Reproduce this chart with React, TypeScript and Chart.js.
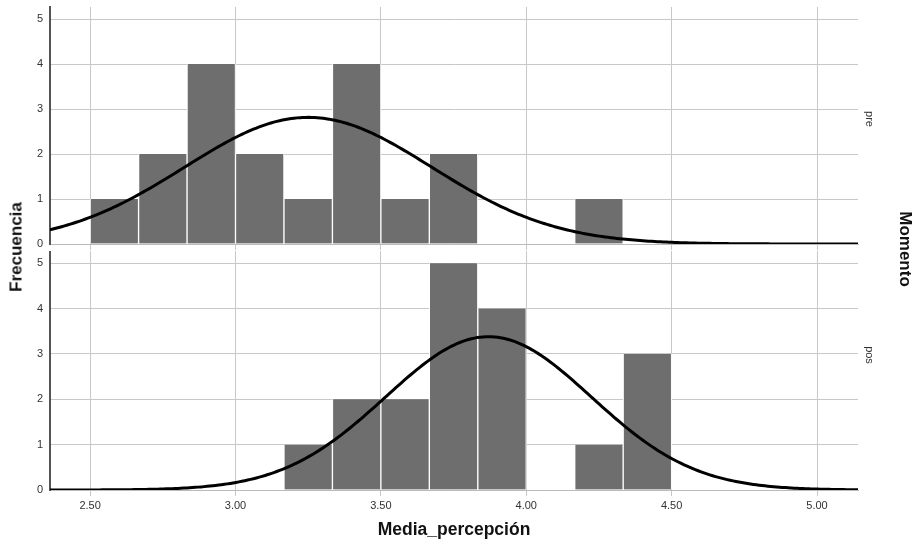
import React, { useEffect, useRef } from "react";
import { Chart, registerables } from "chart.js";

Chart.register(...registerables);

// ---- data ----
const BIN_CENTERS = [2.5833, 2.75, 2.9167, 3.0833, 3.25, 3.4167, 3.5833, 3.75, 3.9167, 4.0833, 4.25, 4.4167];
const BIN_WIDTH = 1 / 6;
const PRE_COUNTS = [1, 2, 4, 2, 1, 4, 1, 2, 0, 0, 1, 0];
const POS_COUNTS = [0, 0, 0, 0, 1, 2, 2, 5, 4, 0, 1, 3];
const PRE_N = 18;
const POS_N = 18;
const PRE_MEAN = 3.25;
const PRE_SD = 0.425;
const POS_MEAN = 3.87;
const POS_SD = 0.354;
const X_TICKS = [2.5, 3.0, 3.5, 4.0, 4.5, 5.0];
const Y_TICKS = [0, 1, 2, 3, 4, 5];
const X_MIN = 2.362;
const X_MAX = 5.141;
const Y_MAX = 5.27;
const CURVE_STEP = 0.01;

const FONT = '"Liberation Sans", Arial, Helvetica, sans-serif';

// fitted normal curve (frequency scale) from mean / sd / n
function normalCurve(mean: number, sd: number, n: number) {
  const pts: { x: number; y: number }[] = [];
  const k = (n * BIN_WIDTH) / (sd * Math.sqrt(2 * Math.PI));
  const steps = Math.round((X_MAX - X_MIN) / CURVE_STEP);
  for (let i = 0; i <= steps; i++) {
    const x = X_MIN + (i * (X_MAX - X_MIN)) / steps;
    const z = (x - mean) / sd;
    pts.push({ x, y: k * Math.exp(-0.5 * z * z) });
  }
  return pts;
}

function makeConfig(counts: number[], mean: number, sd: number, n: number, isBottom: boolean): any {
  return {
    type: "bar",
    data: {
      datasets: [
        {
          type: "line",
          data: normalCurve(mean, sd, n),
          borderColor: "#000000",
          borderWidth: 3,
          pointRadius: 0,
          fill: false,
          tension: 0,
          order: 0,
        },
        {
          type: "bar",
          data: BIN_CENTERS.map((x, i) => ({ x, y: counts[i] })),
          backgroundColor: "#6e6e6e",
          borderColor: "#ffffff",
          borderWidth: { left: 1, right: 1, top: 0, bottom: 0 },
          categoryPercentage: 1,
          barPercentage: 1,
          order: 1,
        },
      ],
    },
    options: {
      animation: false,
      responsive: false,
      maintainAspectRatio: false,
      layout: { padding: { top: isBottom ? 0 : 7, right: 58, left: 0, bottom: 0 } },
      plugins: { legend: { display: false }, tooltip: { enabled: false } },
      scales: {
        x: {
          type: "linear",
          min: X_MIN,
          max: X_MAX,
          offset: false,
          afterBuildTicks: (s: any) => {
            s.ticks = X_TICKS.map((v) => ({ value: v }));
          },
          afterFit: (s: any) => {
            s.height = isBottom ? 57 : 7;
            s.paddingLeft = 0;
            s.paddingRight = 0;
            s.paddingTop = 0;
            s.paddingBottom = 0;
          },
          ticks: {
            display: isBottom,
            font: { family: FONT, size: 11 },
            color: "#333333",
            padding: 3,
            maxRotation: 0,
            callback: (v: any) => Number(v).toFixed(2),
          },
          grid: { color: "#c8c8c8", lineWidth: 1, drawTicks: true, tickLength: 6, offset: false },
          border: { display: true, color: "#bbbbbb", width: 1 },
          title: {
            display: isBottom,
            text: "Media_percepción",
            font: { family: FONT, size: 17.5, weight: "bold" },
            color: "#111111",
            padding: { top: 0, bottom: 6 },
          },
        },
        y: {
          type: "linear",
          min: 0,
          max: Y_MAX,
          afterBuildTicks: (s: any) => {
            s.ticks = Y_TICKS.map((v) => ({ value: v }));
          },
          afterFit: (s: any) => {
            s.width = 50;
            s.paddingTop = 0;
            s.paddingBottom = 0;
            s.paddingLeft = 0;
            s.paddingRight = 0;
          },
          ticks: {
            font: { family: FONT, size: 11 },
            color: "#333333",
            padding: 7,
          },
          grid: { color: "#c8c8c8", lineWidth: 1, drawTicks: false },
          border: { display: true, color: "#555555", width: 2 },
        },
      },
    },
  };
}

function Panel({ counts, mean, sd, n, isBottom, top, height }: any) {
  const ref = useRef<HTMLCanvasElement | null>(null);
  useEffect(() => {
    if (!ref.current) return;
    const chart = new Chart(ref.current, makeConfig(counts, mean, sd, n, isBottom));
    return () => chart.destroy();
  }, []);
  return (
    <canvas
      ref={ref}
      width={916}
      height={height}
      style={{ position: "absolute", left: 0, top, width: 916, height }}
    />
  );
}

const rotLabel = (text: string, cx: number, cy: number, deg: number, size: number, bold: boolean, color: string) => (
  <div
    style={{
      position: "absolute",
      left: cx,
      top: cy,
      transform: `translate(-50%, -50%) rotate(${deg}deg)`,
      fontFamily: FONT,
      fontSize: size,
      fontWeight: bold ? "bold" : "normal",
      color,
      whiteSpace: "nowrap",
      lineHeight: 1,
    }}
  >
    {text}
  </div>
);

export default function App() {
  return (
    <div
      style={{
        position: "fixed",
        left: 0,
        top: 0,
        width: 916,
        height: 547,
        background: "#ffffff",
        overflow: "hidden",
      }}
    >
      <Panel counts={PRE_COUNTS} mean={PRE_MEAN} sd={PRE_SD} n={PRE_N} isBottom={false} top={0} height={251} />
      <Panel counts={POS_COUNTS} mean={POS_MEAN} sd={POS_SD} n={POS_N} isBottom={true} top={251} height={296} />
      {rotLabel("Frecuencia", 15.5, 246.5, -90, 17, true, "#111111")}
      {rotLabel("Momento", 905, 248.5, 90, 17, true, "#111111")}
      {rotLabel("pre", 869, 118.5, 90, 11, false, "#333333")}
      {rotLabel("pos", 869, 355, 90, 11, false, "#333333")}
    </div>
  );
}
